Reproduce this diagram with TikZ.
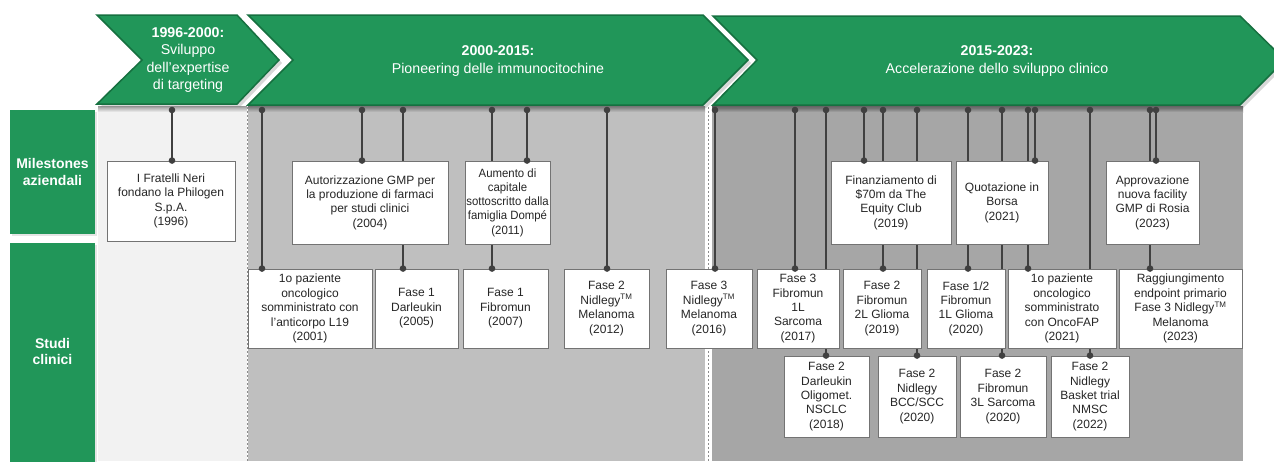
\documentclass[tikz,border=0pt]{standalone}
\usepackage{fontspec}
\setmainfont{Liberation Sans}
\newfontfamily\narrowfam[FakeStretch=0.95]{Liberation Sans}
\usetikzlibrary{shadows}
\definecolor{pgreen}{RGB}{33,150,89}
\definecolor{pgreendk}{RGB}{22,112,64}
\definecolor{panelA}{RGB}{242,242,242}
\definecolor{panelB}{RGB}{191,191,191}
\definecolor{panelC}{RGB}{166,166,166}
\definecolor{conn}{RGB}{64,64,64}
\pgfdeclarelayer{bg}
\pgfdeclarelayer{lines}
\pgfsetlayers{bg,lines,main}
\begin{document}
\begin{tikzpicture}[x=1pt,y=-1pt,
  box/.style={draw=black!55, line width=0.9pt, fill=white, align=center,
    font=\fontsize{12}{14.4}\selectfont, text=black!85, inner sep=0pt},
  chev/.style={fill=pgreen, draw=pgreendk, line width=1.5pt,
    drop shadow={shadow xshift=3pt, shadow yshift=-3pt, opacity=0.3}},
  lab/.style={fill=pgreen, text=white, font=\fontsize{14}{16.8}\selectfont\bfseries,
    align=center, inner sep=0pt, drop shadow={shadow xshift=2pt, shadow yshift=-2pt, opacity=0.2}},
  chevtxt/.style={text=white, font=\fontsize{14.2}{17.6}\selectfont, align=center},
  conline/.style={draw=conn, line width=1.2pt},
  sepline/.style={draw=black!45, line width=0.8pt, dash pattern=on 2pt off 2pt}]
\useasboundingbox (0,0) rectangle (1274,461);
\clip (0,0) rectangle (1274,461);

% panels
\begin{pgfonlayer}{bg}
  \fill[white] (0,0) rectangle (1274,461);
  \fill[panelA] (98,107) rectangle (247,461);
  \fill[panelB] (248,107) rectangle (705,461);
  \fill[panelC] (712,107) rectangle (1243,461);
  \shade[top color=black!40, bottom color=panelA] (98,106) rectangle (247,112);
  \shade[top color=black!55, bottom color=panelB] (248,106) rectangle (705,112);
  \shade[top color=black!65, bottom color=panelC] (712,106) rectangle (1243,112);
  \draw[sepline] (247.5,107) -- (247.5,461);
  \draw[sepline] (708.5,107) -- (708.5,461);
\end{pgfonlayer}

% chevrons
\path[chev] (97,15) -- (237,15) -- (279,60) -- (237,104) -- (97,104) -- (142,60) -- cycle;
\path[chev] (248,15) -- (703,15) -- (748,60) -- (703,105) -- (248,105) -- (293,60) -- cycle;
\path[chev] (713,16) -- (1240,16) -- (1285,60) -- (1240,105) -- (713,105) -- (757,60) -- cycle;
\node[chevtxt] (c1) at (188,60) {\textbf{1996-2000:}\\Sviluppo\\dell’expertise\\di targeting};
\node[chevtxt] (c2) at (498,61) {\textbf{2000-2015:}\\Pioneering delle immunocitochine};
\node[chevtxt] (c3) at (997,61) {\textbf{2015-2023:}\\Accelerazione dello sviluppo clinico};

% row labels
\node[lab, minimum width=85pt, minimum height=124pt] (lm) at (52.5,172) {Milestones\\aziendali};
\node[lab, minimum width=85pt, minimum height=220pt] (ls) at (52.5,353) {\raisebox{-4pt}{\begin{tabular}{@{}c@{}}Studi\\[-1.5pt]clinici\end{tabular}}};

% milestone boxes
\node[box, minimum width=128pt, minimum height=80pt] (m1) at (171,201) {I Fratelli Neri\\fondano la Philogen\\S.p.A.\\(1996)};
\node[box, minimum width=156pt, minimum height=83pt] (m2) at (370,202.5) {Autorizzazione GMP per\\la produzione di farmaci\\per studi clinici\\(2004)};
\node[box, minimum width=85pt, minimum height=83pt, font=\narrowfam\fontsize{12}{14.2}\selectfont] (m3) at (507.5,202.5) {Aumento di\\capitale\\sottoscritto dalla\\famiglia Dompé\\(2011)};
\node[box, minimum width=120pt, minimum height=83pt] (m4) at (891,202.5) {Finanziamento di\\\$70m da The\\Equity Club\\(2019)};
\node[box, minimum width=92pt, minimum height=83pt] (m5) at (1002,202.5) {Quotazione in\\Borsa\\(2021)};
\node[box, minimum width=93pt, minimum height=83pt] (m6) at (1152.5,202.5) {Approvazione\\nuova facility\\GMP di Rosia\\(2023)};

% clinical row 1
\node[box, minimum width=124pt, minimum height=79pt] (s1) at (310,308.5) {1o paziente\\oncologico\\somministrato con\\l'anticorpo L19\\(2001)};
\node[box, minimum width=83pt, minimum height=79pt] (s2) at (416.5,308.5) {Fase 1\\Darleukin\\(2005)};
\node[box, minimum width=85pt, minimum height=79pt] (s3) at (505.5,308.5) {Fase 1\\Fibromun\\(2007)};
\node[box, minimum width=85pt, minimum height=79pt] (s4) at (606.5,308.5) {Fase 2\\Nidlegy\textsuperscript{TM}\\Melanoma\\(2012)};
\node[box, minimum width=86pt, minimum height=79pt] (s5) at (709,308.5) {Fase 3\\Nidlegy\textsuperscript{TM}\\Melanoma\\(2016)};
\node[box, minimum width=82pt, minimum height=79pt] (s6) at (798,308.5) {Fase 3\\Fibromun\\1L\\Sarcoma\\(2017)};
\node[box, minimum width=78pt, minimum height=79pt] (s7) at (882,308.5) {Fase 2\\Fibromun\\2L Glioma\\(2019)};
\node[box, minimum width=78pt, minimum height=79pt] (s8) at (966,308.5) {Fase 1/2\\Fibromun\\1L Glioma\\(2020)};
\node[box, minimum width=108pt, minimum height=79pt] (s9) at (1062,308.5) {1o paziente\\oncologico\\somministrato\\con OncoFAP\\(2021)};
\node[box, minimum width=123pt, minimum height=79pt] (s10) at (1180.5,308.5) {Raggiungimento\\endpoint primario\\Fase 3 Nidlegy\textsuperscript{TM}\\Melanoma\\(2023)};

% clinical row 2
\node[box, minimum width=85pt, minimum height=81pt] (t1) at (826.5,396.5) {Fase 2\\Darleukin\\Oligomet.\\NSCLC\\(2018)};
\node[box, minimum width=78pt, minimum height=81pt] (t2) at (917,396.5) {Fase 2\\Nidlegy\\BCC/SCC\\(2020)};
\node[box, minimum width=86pt, minimum height=81pt] (t3) at (1003,396.5) {Fase 2\\Fibromun\\3L Sarcoma\\(2020)};
\node[box, minimum width=78pt, minimum height=81pt] (t4) at (1090,396.5) {Fase 2\\Nidlegy\\Basket trial\\NMSC\\(2022)};

% connectors
\foreach \x/\t in {172/m1, 262/s1, 362/m2, 403/s2, 492/s3, 527/m3, 607/s4,
  715/s5, 795/s6, 826/t1, 864/m4, 883/s7, 917/t2, 968/s8, 1002/t3,
  1028/s9, 1035/m5, 1090/t4, 1150/s10, 1156/m6} {
  \coordinate (k\x) at (\x,110);
  \begin{pgfonlayer}{lines}
    \draw[conline] (k\x) -- (k\x |- \t.north);
  \end{pgfonlayer}
  \fill[conn] (k\x) circle (3.3pt);
  \fill[conn] (k\x |- \t.north) circle (3.3pt);
}
\end{tikzpicture}
\end{document}
